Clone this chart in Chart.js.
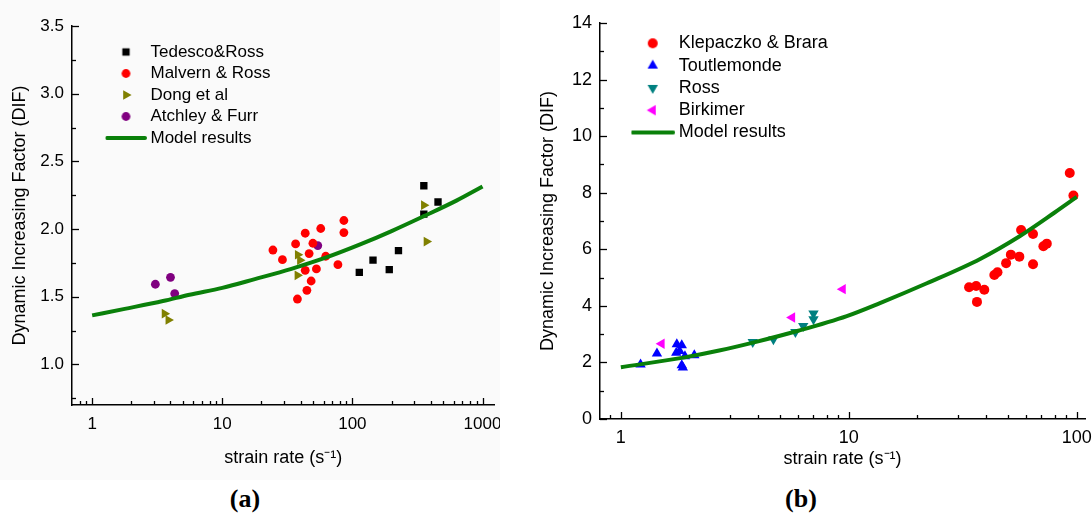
<!DOCTYPE html>
<html>
<head>
<meta charset="utf-8">
<script src="https://cdn.jsdelivr.net/npm/chart.js@4.4.0/dist/chart.umd.min.js"></script>
<style>
  html, body { margin: 0; padding: 0; background: #fff; }
  body { width: 1092px; height: 518px; position: relative; overflow: hidden; }
  #wrapA { position: absolute; left: 0; top: 0; width: 500px; height: 480px; background: #fafafa; }
  #wrapB { position: absolute; left: 500px; top: 0; width: 592px; height: 480px; }
  .tag { position: absolute; top: 484px; font: bold 26px 'Liberation Serif', 'Times New Roman', serif; color: #000; transform: translateX(-50%); }
</style>
</head>
<body>
<div id="wrapA"><canvas id="chartA" width="500" height="480"></canvas></div>
<div id="wrapB"><canvas id="chartB" width="592" height="480"></canvas></div>
<div class="tag" style="left:245px">(a)</div>
<div class="tag" style="left:801px">(b)</div>
<script>
// ---- panel (a) data ----
const tedescoX = [113, 144, 192, 226, 354, 354, 455];
const tedescoY = [1.68, 1.77, 1.70, 1.84, 2.32, 2.11, 2.20];
const malvernX = [24.5, 29.0, 36.6, 43.4, 57.1, 86, 86, 49.7, 46.5, 62.4, 43.4, 52.9, 77.4, 48.2, 44.7, 37.8];
const malvernY = [1.845, 1.774, 1.89, 1.969, 2.004, 2.063, 1.974, 1.895, 1.819, 1.799, 1.695, 1.705, 1.737, 1.616, 1.547, 1.483];
const dongX = [3.6, 3.85, 38, 39.5, 37.8, 354, 371];
const dongY = [1.375, 1.328, 1.81, 1.77, 1.658, 2.176, 1.907];
const atchleyX = [3.06, 4.0, 4.31, 54.2];
const atchleyY = [1.592, 1.643, 1.523, 1.878];
const modelAX = [1, 1.78, 3.5, 5.6, 10, 17.8, 34, 63, 116, 200, 354, 630, 1000];
const modelAY = [1.362, 1.41, 1.468, 1.515, 1.565, 1.63, 1.706, 1.79, 1.888, 1.985, 2.095, 2.21, 2.314];

const leftXTicks = [0.8, 0.9, 1, 2, 3, 4, 5, 6, 7, 8, 9, 10, 20, 30, 40, 50, 60, 70, 80, 90,
                    100, 200, 300, 400, 500, 600, 700, 800, 900, 1000];
const leftXLabels = [1, 10, 100, 1000];
const leftYTicks = [0.75, 1, 1.25, 1.5, 1.75, 2, 2.25, 2.5, 2.75, 3, 3.25, 3.5];
const leftYLabels = [1, 1.5, 2, 2.5, 3, 3.5];

// ---- panel (b) data ----
const klepX = [93.2, 96.7, 57.0, 64.3, 71.4, 73.9, 51.4, 56.0, 49.0, 64.3, 43.5, 44.9, 33.7, 36.2, 39.3, 36.5];
const klepY = [8.70, 7.90, 6.68, 6.54, 6.11, 6.20, 5.81, 5.74, 5.51, 5.47, 5.09, 5.19, 4.66, 4.70, 4.57, 4.14];
const toutX = [1.22, 1.44, 1.76, 1.85, 1.75, 1.81, 1.91, 2.10, 1.85, 1.87];
const toutY = [1.93, 2.32, 2.64, 2.61, 2.34, 2.40, 2.22, 2.25, 1.90, 1.82];
const rossX = [3.79, 4.67, 5.83, 6.31, 7.0, 7.0];
const rossY = [2.72, 2.82, 3.08, 3.29, 3.73, 3.53];
const birkX = [1.51, 5.64, 9.41];
const birkY = [2.66, 3.59, 4.59];
const modelBX = [1, 1.88, 2.7, 3.8, 6, 9.8, 13.7, 22, 37.7, 56.4, 80, 100];
const modelBY = [1.83, 2.17, 2.42, 2.70, 3.12, 3.64, 4.10, 4.80, 5.66, 6.47, 7.30, 7.85];

const rightXTicks = [0.9, 1, 2, 3, 4, 5, 6, 7, 8, 9, 10, 20, 30, 40, 50, 60, 70, 80, 90, 100];
const rightXLabels = [1, 10, 100];
const rightYTicks = [0, 1, 2, 3, 4, 5, 6, 7, 8, 9, 10, 11, 12, 13, 14];
const rightYLabels = [0, 2, 4, 6, 8, 10, 12, 14];

const FONT = "'Liberation Sans', Arial, sans-serif";
Chart.defaults.font.family = FONT;
Chart.defaults.color = '#000';

const pts = (xs, ys) => xs.map((x, i) => ({ x, y: ys[i] }));

// small canvases used as legend markers
function marker(style, color, r, rot) {
  const c = document.createElement('canvas');
  const g = c.getContext('2d');
  if (style === 'line') {
    c.width = r; c.height = 8;
    g.strokeStyle = color; g.lineWidth = 4; g.lineCap = 'round';
    g.beginPath(); g.moveTo(2, 4); g.lineTo(r - 2, 4); g.stroke();
    return c;
  }
  c.width = c.height = Math.ceil(r * 2 + 4);
  const cx = c.width / 2, cy = c.height / 2;
  g.fillStyle = color;
  g.beginPath();
  if (style === 'circle') {
    g.arc(cx, cy, r, 0, Math.PI * 2);
  } else if (style === 'rect') {
    const s = r * Math.SQRT1_2;
    g.rect(cx - s, cy - s, 2 * s, 2 * s);
  } else {
    let a = (rot || 0) * Math.PI / 180;
    g.moveTo(cx + Math.sin(a) * r, cy - Math.cos(a) * r);
    a += 2 * Math.PI / 3;
    g.lineTo(cx + Math.sin(a) * r, cy - Math.cos(a) * r);
    a += 2 * Math.PI / 3;
    g.lineTo(cx + Math.sin(a) * r, cy - Math.cos(a) * r);
    g.closePath();
  }
  g.fill();
  return c;
}

// Origin-style ticks pointing into the plot
const innerTicks = {
  id: 'innerTicks',
  afterDatasetsDraw(chart) {
    const ctx = chart.ctx;
    ctx.save();
    ctx.strokeStyle = '#000';
    ctx.lineWidth = 1.3;
    [chart.scales.x, chart.scales.y].forEach(scale => {
      scale.ticks.forEach(t => {
        const len = t.label !== '' ? 7 : 4;
        const p = Math.round(scale.getPixelForValue(t.value)) + 0.5;
        ctx.beginPath();
        if (scale.isHorizontal()) {
          ctx.moveTo(p, scale.top); ctx.lineTo(p, scale.top - len);
        } else {
          ctx.moveTo(scale.right, p); ctx.lineTo(scale.right + len, p);
        }
        ctx.stroke();
      });
    });
    ctx.restore();
  }
};

// nudge the in-plot legend away from the axes
const legendShift = {
  id: 'legendShift',
  afterLayout(chart, args, opts) {
    chart.legend.left += opts.dx;
    chart.legend.top += opts.dy;
  }
};

function makeChart(id, cfg) {
  const fs = cfg.fontSize;
  return new Chart(document.getElementById(id), {
    type: 'scatter',
    data: { datasets: cfg.datasets },
    plugins: [innerTicks, legendShift],
    options: {
      responsive: false,
      animation: false,
      events: [],
      layout: { padding: cfg.padding },
      plugins: {
        tooltip: { enabled: false },
        legendShift: cfg.shift,
        legend: {
          position: 'chartArea',
          align: 'start',
          labels: {
            usePointStyle: true,
            pointStyleWidth: cfg.boxW,
            padding: cfg.rowPad,
            font: { size: fs },
            color: '#000',
            generateLabels: chart => chart.data.datasets.map((ds, i) => ({
              text: ds.label,
              datasetIndex: i,
              pointStyle: ds.legendMarker,
              rotation: 0,
              lineWidth: 0,
              hidden: false,
              fontColor: '#000'
            }))
          }
        }
      },
      scales: {
        x: {
          type: 'logarithmic',
          min: cfg.xMin, max: cfg.xMax,
          grid: { display: false, drawTicks: false },
          border: { display: true, color: '#000', width: 1.5 },
          afterBuildTicks: s => { s.ticks = cfg.xTicks.map(v => ({ value: v })); },
          afterFit: s => { s.height = cfg.xH; s.paddingLeft = 0; s.paddingRight = 0; },
          ticks: {
            autoSkip: false, maxRotation: 0, padding: cfg.xPad,
            font: { size: fs },
            callback: v => cfg.xLabels.includes(v) ? String(v) : ''
          },
          title: {
            display: true, text: 'strain rate (s\u207B\u00B9)',
            font: { size: 18 }, color: '#000',
            padding: { top: 0, bottom: cfg.xTitlePad }
          }
        },
        y: {
          min: cfg.yMin, max: cfg.yMax,
          grid: { display: false, drawTicks: false },
          border: { display: true, color: '#000', width: 1.5 },
          afterBuildTicks: s => { s.ticks = cfg.yTicks.map(v => ({ value: v })); },
          afterFit: s => { s.width = cfg.yW; s.paddingTop = 0; s.paddingBottom = 0; },
          ticks: {
            autoSkip: false, padding: 8,
            font: { size: fs },
            callback: v => cfg.yLabels.includes(v) ? cfg.yFmt(v) : ''
          },
          title: {
            display: true, text: 'Dynamic Increasing Factor (DIF)',
            font: { size: 18 }, color: '#000',
            padding: { top: cfg.yTitlePad, bottom: 0 }
          }
        }
      }
    }
  });
}

const GREEN = '#0a800a';

makeChart('chartA', {
  fontSize: 17,
  padding: { left: 0, top: 26, right: 2, bottom: 0 },
  shift: { dx: 33.5, dy: 39 },
  boxW: 32, rowPad: 4.5,
  xMin: 0.7, xMax: 1234, xTicks: leftXTicks, xLabels: leftXLabels, xH: 75, xPad: 9, xTitlePad: 11,
  yMin: 0.7, yMax: 3.5, yTicks: leftYTicks, yLabels: leftYLabels, yW: 72, yTitlePad: 9,
  yFmt: v => v.toFixed(1),
  datasets: [
    { label: 'Tedesco&Ross', data: pts(tedescoX, tedescoY), pointStyle: 'rect', pointRadius: 5.2,
      backgroundColor: '#000', pointBorderWidth: 0, legendMarker: marker('rect', '#000', 5.2) },
    { label: 'Malvern & Ross', data: pts(malvernX, malvernY), pointStyle: 'circle', pointRadius: 4.4,
      backgroundColor: '#ff0000', pointBorderWidth: 0, legendMarker: marker('circle', '#ff0000', 4.4) },
    { label: 'Dong et al', data: pts(dongX, dongY), pointStyle: 'triangle', rotation: 90, pointRadius: 5.6,
      backgroundColor: '#808000', pointBorderWidth: 0, legendMarker: marker('triangle', '#808000', 5.6, 90) },
    { label: 'Atchley & Furr', data: pts(atchleyX, atchleyY), pointStyle: 'circle', pointRadius: 4.4,
      backgroundColor: '#800080', pointBorderWidth: 0, legendMarker: marker('circle', '#800080', 4.4) },
    { label: 'Model results', data: pts(modelAX, modelAY), showLine: true, pointRadius: 0,
      borderColor: GREEN, borderWidth: 4, cubicInterpolationMode: 'monotone', order: -1,
      legendMarker: marker('line', GREEN, 42) }
  ]
});

makeChart('chartB', {
  fontSize: 18,
  padding: { left: 0, top: 23, right: 7, bottom: 0 },
  shift: { dx: 31.4, dy: 30 },
  boxW: 34, rowPad: 4.3,
  xMin: 0.81, xMax: 108.7, xTicks: rightXTicks, xLabels: rightXLabels, xH: 61, xPad: 8, xTitlePad: 10,
  yMin: 0, yMax: 14, yTicks: rightYTicks, yLabels: rightYLabels, yW: 100, yTitlePad: 37,
  yFmt: v => String(v),
  datasets: [
    { label: 'Klepaczko & Brara', data: pts(klepX, klepY), pointStyle: 'circle', pointRadius: 5,
      backgroundColor: '#ff0000', pointBorderWidth: 0, legendMarker: marker('circle', '#ff0000', 5) },
    { label: 'Toutlemonde', data: pts(toutX, toutY), pointStyle: 'triangle', pointRadius: 6,
      backgroundColor: '#0000ff', pointBorderWidth: 0, legendMarker: marker('triangle', '#0000ff', 6, 0) },
    { label: 'Ross', data: pts(rossX, rossY), pointStyle: 'triangle', rotation: 180, pointRadius: 6,
      backgroundColor: '#008080', pointBorderWidth: 0, legendMarker: marker('triangle', '#008080', 6, 180) },
    { label: 'Birkimer', data: pts(birkX, birkY), pointStyle: 'triangle', rotation: 270, pointRadius: 6,
      backgroundColor: '#ff00ff', pointBorderWidth: 0, legendMarker: marker('triangle', '#ff00ff', 6, 270) },
    { label: 'Model results', data: pts(modelBX, modelBY), showLine: true, pointRadius: 0,
      borderColor: GREEN, borderWidth: 4, cubicInterpolationMode: 'monotone', order: -1,
      legendMarker: marker('line', GREEN, 45) }
  ]
});
</script>
</body>
</html>
